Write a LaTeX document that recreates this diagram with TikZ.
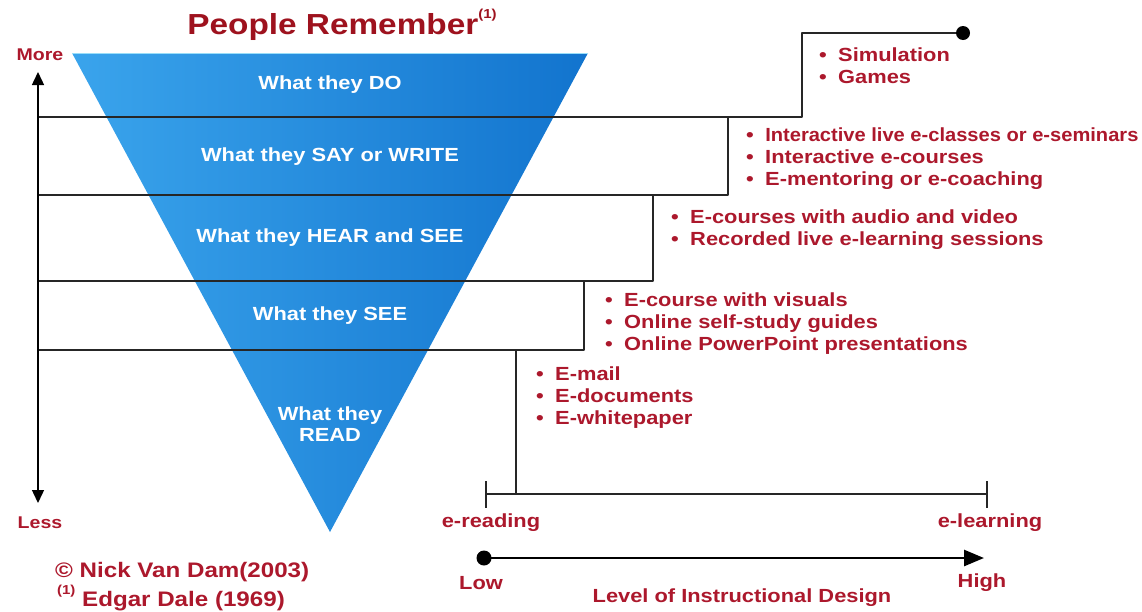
\documentclass[tikz,border=0pt]{standalone}
\usepackage{fontspec}
\setmainfont{Liberation Sans}[FakeStretch=1.15]
\usetikzlibrary{arrows.meta,positioning}
\definecolor{dalered}{RGB}{172,24,44}
\definecolor{titlered}{RGB}{158,18,30}
\definecolor{conelight}{RGB}{58,164,236}
\definecolor{conedark}{RGB}{18,116,206}
\tikzset{
	level/.style={text=white, font=\fontsize{19}{21}\selectfont\bfseries, align=center, inner sep=0},
	media/.style={text=dalered, font=\fontsize{19}{22}\selectfont\bfseries, align=left, anchor=north west, inner sep=0},
	tag/.style={text=dalered, font=\fontsize{19}{21}\selectfont\bfseries, inner sep=0},
	credit/.style={text=dalered, font=\fontsize{21}{23}\selectfont\bfseries, anchor=west, inner sep=0},
	stair/.style={line width=1.6pt, draw=black!85},
}
\newcommand{\bul}{\textbullet\hspace{0.6em}}
\newcommand{\smallsup}[1]{\raisebox{0.55em}{\fontsize{13}{14}\selectfont#1}}
\begin{document}
\begin{tikzpicture}[x=1pt, y=-1pt, line join=round, >={Triangle[length=13pt,width=12pt]}]
			\useasboundingbox (0,0) rectangle (1142,611);
			% the cone
			\coordinate (tl) at (72,53);
			\coordinate (tr) at (588,53);
			\coordinate (apex) at (330,532);
			\shade[left color=conelight, right color=conedark] (tl) -- (tr) -- (apex) -- cycle;
			\draw[line width=1pt, cyan!40] (tl) -- (tr);
			% stairs
			\coordinate (a1) at (38,117);
			\coordinate (a2) at (38,195);
			\coordinate (a3) at (38,281);
			\coordinate (a4) at (38,350);
			\coordinate (simdot) at (963,33);
			\coordinate (stem) at (516,350);
			\coordinate (bl) at (486,494);
			\coordinate (br) at (987,494);
			\draw[stair] (a1) -- ++(764,0) |- (simdot);
			\draw[stair] (a2) -- ++(690,0) -- ++(0,-78);
			\draw[stair] (a3) -- ++(615,0) -- ++(0,-86);
			\draw[stair] (a4) -- ++(546,0) -- ++(0,-69);
			\draw[stair] (stem) -- (stem |- bl);
			\draw[stair] (bl) -- (br);
			\draw[stair] (bl) ++(0,-13) -- ++(0,27);
			\draw[stair] (br) ++(0,-13) -- ++(0,27);
			\fill (simdot) circle(7);
			% more / less
			\coordinate (axtop) at (38,72);
			\coordinate (axbot) at (38,503);
			\draw[<->, line width=1.4pt] (axtop) -- (axbot);
			\node[tag, font=\fontsize{17}{19}\selectfont\bfseries] (more) at (40,55) {More};
			\node[tag, font=\fontsize{17}{19}\selectfont\bfseries] (less) at (40,523) {Less};
			% low / high
			\coordinate (low) at (484,558);
			\coordinate (high) at (984,558);
			\draw[line width=2.6pt, -{Triangle[length=20pt,width=16pt]}] (low) -- (high);
			\fill (low) circle(7.5);
			\node[tag] (lowtxt) at (481,583) {Low};
			\node[tag] (hightxt) at (982,583) {High};
			\node[tag] (design) at (742,598) {Level of Instructional Design};
			\node[tag] (ereading) at (491,523) {e-reading};
			\node[tag] (elearning) at (990,523) {e-learning};
			% title and credits
			\node[text=titlered, font=\fontsize{29}{31}\selectfont\bfseries] (title) at (342,25) {People Remember\smallsup{(1)}};
			\node[credit] (vandam) at (55,572) {\textcopyright\ Nick Van Dam(2003)};
			\node[credit] (dale) at (57,598) {\smallsup{(1)} Edgar Dale (1969)};
			% levels
			\node[level] (lvdo) at (330,85) {What they DO};
			\node[level] (lvsay) at (330,157) {What they SAY or WRITE};
			\node[level] (lvhear) at (330,238) {What they HEAR and SEE};
			\node[level] (lvsee) at (330,316) {What they SEE};
			\node[level] (lvread) at (330,424) {What they\\READ};
			% media
			\node[media] (sims) at (819,48) {\bul Simulation\\\bul Games};
			\node[media] (live) at (746,128) {\bul\scalebox{0.92}[1]{Interactive live e-classes or e-seminars}\\\bul Interactive e-courses\\\bul E-mentoring or e-coaching};
			\node[media] (audio) at (671,210) {\bul E-courses with audio and video\\\bul Recorded live e-learning sessions};
			\node[media] (visual) at (605,293) {\bul E-course with visuals\\\bul Online self-study guides\\\bul Online PowerPoint presentations};
			\node[media] (email) at (536,367) {\bul E-mail\\\bul E-documents\\\bul E-whitepaper};
			\end{tikzpicture}
\end{document}
